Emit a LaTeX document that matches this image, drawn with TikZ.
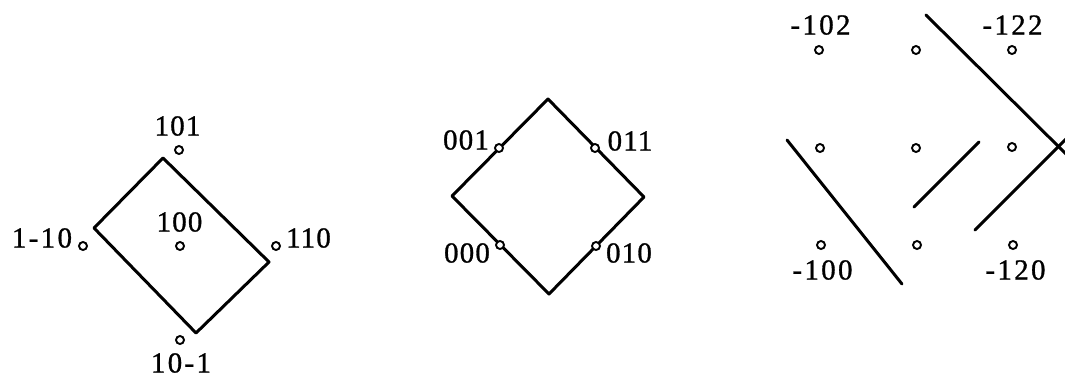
\documentclass[tikz,border=0pt]{standalone}
\usepackage{fontspec}
\setmainfont[FakeBold=1,LetterSpace=4]{Liberation Serif}
\newfontfamily\spacedfont[FakeBold=1,LetterSpace=8]{Liberation Serif}
\tikzset{
  dot/.style={circle,draw=black,fill=white,line width=1.9pt,inner sep=0pt,minimum size=8pt},
  lab/.style={inner sep=0pt,font=\fontsize{29}{29}\selectfont,text=black},
  wide/.style={lab,font=\fontsize{29}{29}\selectfont\spacedfont},
  edge/.style={draw=black,line width=3pt,line cap=round,line join=round}
}
\begin{document}
\begin{tikzpicture}[x=1pt,y=-1pt]
\useasboundingbox (0,0) rectangle (1065,378);
% left diamond
\coordinate (lt) at (163,158);
\coordinate (ll) at (94,228);
\coordinate (lr) at (269,262);
\coordinate (lb) at (196,333);
\draw[edge] (lt) -- (lr) -- (lb) -- (ll) -- cycle;
\node[dot] (d101) at (179,150) {};
\node[dot] (d100) at (180,246) {};
\node[dot] (d110) at (276,246) {};
\node[dot] (d1m10) at (83,246) {};
\node[dot] (d10m1) at (180,340) {};
\node[lab] (t101) at (177.5,126) {101};
\node[lab] (t100) at (179.5,222) {100};
\node[lab] (t110) at (308.5,238) {110};
\node[wide] (t1m10) at (42,238) {1-10};
\node[wide] (t10m1) at (181,363) {10-1};
% middle diamond
\coordinate (mt) at (548,99);
\coordinate (ml) at (452,196);
\coordinate (mr) at (644,197);
\coordinate (mb) at (549,294);
\draw[edge] (mt) -- (mr) -- (mb) -- (ml) -- cycle;
\node[dot] (d001) at (499,148) {};
\node[dot] (d011) at (595,148) {};
\node[dot] (d000) at (500,245) {};
\node[dot] (d010) at (596,246) {};
\node[lab] (t001) at (466,140) {001};
\node[lab] (t011) at (630,141) {011};
\node[lab] (t000) at (467,253) {000};
\node[lab] (t010) at (629,253) {010};
% right lattice
\coordinate (a1) at (926,15);
\coordinate (a2) at (1068,156);
\coordinate (b1) at (787,140);
\coordinate (b2) at (902,284);
\coordinate (c1) at (979,142);
\coordinate (c2) at (914,207);
\coordinate (e1) at (1068,137);
\coordinate (e2) at (975,230);
\draw[edge] (a1) -- (a2);
\draw[edge] (b1) -- (b2);
\draw[edge] (c1) -- (c2);
\draw[edge] (e1) -- (e2);
\node[dot] (r11) at (819,50) {};
\node[dot] (r12) at (916,50) {};
\node[dot] (r13) at (1012,50) {};
\node[dot] (r21) at (820,148) {};
\node[dot] (r22) at (916,148) {};
\node[dot] (r23) at (1012,147) {};
\node[dot] (r31) at (821,245) {};
\node[dot] (r32) at (917,245) {};
\node[dot] (r33) at (1013,245) {};
\node[wide] (tm102) at (820.5,25) {-102};
\node[wide] (tm122) at (1012.5,25) {-122};
\node[wide] (tm100) at (822.5,270) {-100};
\node[wide] (tm120) at (1015.5,270) {-120};
\end{tikzpicture}
\end{document}
